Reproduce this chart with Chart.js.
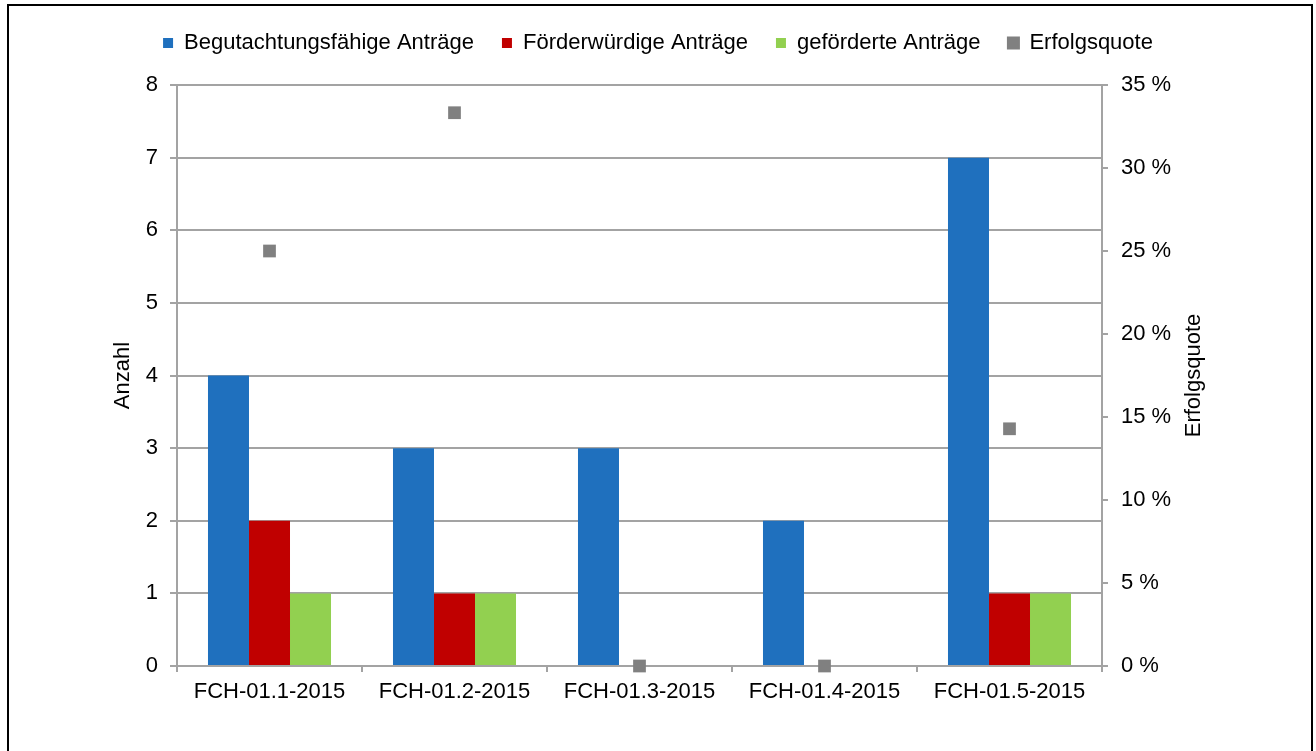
<!DOCTYPE html>
<html>
<head>
<meta charset="utf-8">
<script src="https://cdn.jsdelivr.net/npm/chart.js@4"></script>
<style>
  html, body { margin: 0; padding: 0; background: #fff; overflow: hidden; }
  #wrap { position: relative; width: 1316px; height: 751px; }
  #frame {
    position: absolute; left: 7px; top: 4px; width: 1302px; height: 800px;
    border: 2px solid #000; border-bottom: none; pointer-events: none;
  }
</style>
</head>
<body>
<div id="wrap">
  <canvas id="chart"></canvas>
  <div id="frame"></div>
</div>
<script>
const categories = ["FCH-01.1-2015", "FCH-01.2-2015", "FCH-01.3-2015", "FCH-01.4-2015", "FCH-01.5-2015"];
const begutachtungsfaehig = [4, 3, 3, 2, 7];
const foerderwuerdig = [2, 1, 0, 0, 1];
const gefoerdert = [1, 1, 0, 0, 1];
const erfolgsquote = [25, 33.33, 0, 0, 14.29];

const font = { family: "Liberation Sans, Arial, sans-serif", size: 22 };
const gridColor = "#a3a3a3";

// extra room below the legend row
const legendGap = {
  id: "legendGap",
  afterInit(chart) {
    const fit = chart.legend.fit;
    chart.legend.fit = function () {
      fit.call(this);
      this.height += 21;
    };
  }
};

// right axis title reads bottom to top, chart.js would rotate it the other way
const rightTitle = {
  id: "rightTitle",
  afterDraw(chart) {
    const ctx = chart.ctx;
    ctx.save();
    ctx.translate(1194, (chart.chartArea.top + chart.chartArea.bottom) / 2);
    ctx.rotate(-Math.PI / 2);
    ctx.font = "22px Liberation Sans, Arial, sans-serif";
    ctx.fillStyle = "#000";
    ctx.textAlign = "center";
    ctx.textBaseline = "middle";
    ctx.fillText("Erfolgsquote", 0, 0);
    ctx.restore();
  }
};

new Chart(document.getElementById("chart"), {
  data: {
    labels: categories,
    datasets: [
      {
        type: "bar",
        label: "Begutachtungsfähige Anträge",
        data: begutachtungsfaehig,
        backgroundColor: "#1f70be",
        yAxisID: "y"
      },
      {
        type: "bar",
        label: "Förderwürdige Anträge",
        data: foerderwuerdig,
        backgroundColor: "#c00000",
        yAxisID: "y"
      },
      {
        type: "bar",
        label: "geförderte Anträge",
        data: gefoerdert,
        backgroundColor: "#92d050",
        yAxisID: "y"
      },
      {
        type: "line",
        label: "Erfolgsquote",
        data: erfolgsquote,
        showLine: false,
        pointStyle: "rect",
        pointRadius: 9,
        pointHoverRadius: 9,
        pointBorderWidth: 0,
        backgroundColor: "#808080",
        borderColor: "#808080",
        yAxisID: "y1",
        clip: false
      }
    ]
  },
  options: {
    responsive: true,
    maintainAspectRatio: false,
    animation: false,
    categoryPercentage: 0.665,
    barPercentage: 1,
    layout: { padding: { top: 4, left: 0, right: 0, bottom: 0 } },
    plugins: {
      legend: {
        position: "top",
        labels: {
          boxWidth: 10,
          boxHeight: 10,
          padding: 28,
          color: "#000",
          font: font
        }
      },
      tooltip: { enabled: false }
    },
    scales: {
      x: {
        offset: true,
        grid: {
          offset: true,
          drawOnChartArea: false,
          drawTicks: true,
          tickLength: 6,
          color: gridColor,
          lineWidth: 2
        },
        border: { color: gridColor, width: 2 },
        ticks: { color: "#000", font: font, padding: 7, maxRotation: 0 },
        afterFit(scale) { scale.height = 85; }
      },
      y: {
        position: "left",
        min: 0,
        max: 8,
        ticks: { stepSize: 1, color: "#000", font: font, padding: 12 },
        grid: { color: gridColor, lineWidth: 2, tickLength: 7 },
        border: { color: gridColor, width: 2 },
        title: {
          display: true,
          text: "Anzahl",
          color: "#000",
          font: font,
          padding: { top: 110, bottom: 0 }
        },
        afterFit(scale) { scale.width = 177; }
      },
      y1: {
        position: "right",
        min: 0,
        max: 35,
        ticks: {
          stepSize: 5,
          color: "#000",
          font: font,
          padding: 13,
          callback: v => v + " %"
        },
        grid: { drawOnChartArea: false, color: gridColor, lineWidth: 2, tickLength: 6 },
        border: { color: gridColor, width: 2 },
        afterFit(scale) { scale.width = 214; }
      }
    }
  },
  plugins: [legendGap, rightTitle]
});
</script>
</body>
</html>
